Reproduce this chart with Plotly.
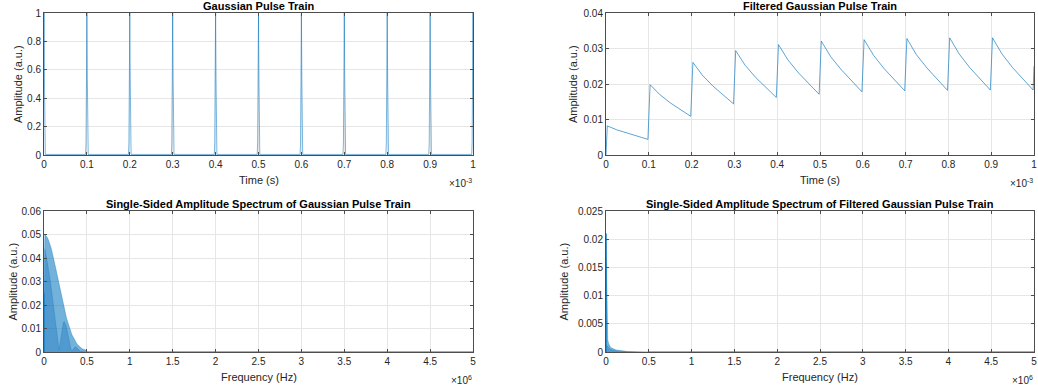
import plotly.graph_objects as go

# ---------------- data ----------------
# Gaussian pulse train: pulse centres (ms) and a single pulse shape
pulse_centers_ms = [0.0, 0.1, 0.2, 0.3, 0.4, 0.5, 0.6, 0.7, 0.8, 0.9, 1.0]
pulse_offsets_us = [-3.0, -2.0, -1.0, 0.0, 1.0, 2.0, 3.0]
pulse_shape = [0.004, 0.085, 0.54, 1.0, 0.54, 0.085, 0.004]

# Filtered pulse train (ms, amplitude)
filt_t_ms = [0.0, 0.003, 0.025, 0.05, 0.075, 0.098,
             0.103, 0.125, 0.15, 0.175, 0.198,
             0.203, 0.225, 0.25, 0.275, 0.298,
             0.303, 0.325, 0.35, 0.375, 0.398,
             0.403, 0.425, 0.45, 0.475, 0.498,
             0.503, 0.525, 0.55, 0.575, 0.598,
             0.603, 0.625, 0.65, 0.675, 0.698,
             0.703, 0.725, 0.75, 0.775, 0.798,
             0.803, 0.825, 0.85, 0.875, 0.898,
             0.903, 0.925, 0.95, 0.975, 0.998,
             1.0]
filt_amp = [0.0, 0.0082, 0.0071, 0.0061, 0.0052, 0.0044,
            0.0198, 0.0171, 0.0147, 0.0126, 0.0109,
            0.0261, 0.0225, 0.0194, 0.0167, 0.0144,
            0.0294, 0.0253, 0.0218, 0.0188, 0.0162,
            0.0311, 0.0268, 0.0231, 0.0199, 0.0171,
            0.0321, 0.0277, 0.0240, 0.0207, 0.0178,
            0.0325, 0.0281, 0.0243, 0.0210, 0.0181,
            0.0328, 0.0283, 0.0245, 0.0211, 0.0182,
            0.0330, 0.0285, 0.0246, 0.0212, 0.0183,
            0.0330, 0.0285, 0.0246, 0.0212, 0.0183,
            0.0250]

# Spectrum: harmonic lines every 10 kHz (0 .. 500 kHz) and the in-between lobes
harm_freq_hz = [k * 1e4 for k in range(51)]
mid_freq_hz = [k * 1e4 + 5e3 for k in range(50)]

spec_peak = [0.0250, 0.0499, 0.0496, 0.0492, 0.0486, 0.0478, 0.0469, 0.0458, 0.0446, 0.0432,
             0.0418, 0.0402, 0.0386, 0.0369, 0.0351, 0.0333, 0.0315, 0.0297, 0.0279, 0.0261,
             0.0243, 0.0226, 0.0209, 0.0193, 0.0177, 0.0162, 0.0148, 0.0135, 0.0122, 0.0110,
             0.0099, 0.0089, 0.0079, 0.0070, 0.0062, 0.0055, 0.0048, 0.0043, 0.0037, 0.0032,
             0.0028, 0.0024, 0.0021, 0.0018, 0.0015, 0.0013, 0.0011, 0.0009, 0.0008, 0.0007,
             0.0006]
spec_lobe = [0.0440, 0.0430, 0.0410, 0.0390, 0.0370, 0.0350, 0.0320, 0.0300, 0.0270, 0.0240,
             0.0210, 0.0180, 0.0150, 0.0110, 0.0080, 0.0050, 0.0020, 0.0010, 0.0030, 0.0060,
             0.0090, 0.0110, 0.0125, 0.0130, 0.0125, 0.0115, 0.0100, 0.0080, 0.0060, 0.0040,
             0.0025, 0.0010, 0.0004, 0.0008, 0.0015, 0.0020, 0.0022, 0.0020, 0.0016, 0.0011,
             0.0006, 0.0003, 0.0002, 0.0003, 0.0003, 0.0002, 0.0001, 0.0001, 0.0000, 0.0000]

filt_spec_peak = [0.0210, 0.0043, 0.0022, 0.0015, 0.0011, 0.00090, 0.00075, 0.00065, 0.00057, 0.00050,
                  0.00045, 0.00040, 0.00036, 0.00033, 0.00030, 0.00027, 0.00024, 0.00022, 0.00020, 0.00018,
                  0.00016, 0.00014, 0.00013, 0.00011, 0.00010, 0.00009, 0.00008, 0.00007, 0.00006, 0.00005,
                  0.00005, 0.00004, 0.00003, 0.00003, 0.00002, 0.00002, 0.00002, 0.00001, 0.00001, 0.00001,
                  0.00001, 0.00001, 0.0, 0.0, 0.0, 0.0, 0.0, 0.0, 0.0, 0.0,
                  0.0]
filt_spec_lobe = [0.0012, 0.0011, 0.0008, 0.0006, 0.0005, 0.00040, 0.00035, 0.00030, 0.00026, 0.00022,
                  0.00020, 0.00017, 0.00015, 0.00013, 0.00011, 0.00010, 0.00009, 0.00008, 0.00007, 0.00006,
                  0.00005, 0.00004, 0.00004, 0.00003, 0.00003, 0.00002, 0.00002, 0.00002, 0.00001, 0.00001,
                  0.0, 0.0, 0.0, 0.0, 0.0, 0.0, 0.0, 0.0, 0.0, 0.0,
                  0.0, 0.0, 0.0, 0.0, 0.0, 0.0, 0.0, 0.0, 0.0, 0.0]

# flat tail of both spectra up to Nyquist
tail_freq_hz = [5.0e5, 5.0e6]
tail_amp = [0.0, 0.0]

# tick labels
time_ticks_ms = [0, 0.1, 0.2, 0.3, 0.4, 0.5, 0.6, 0.7, 0.8, 0.9, 1.0]
time_tick_text = ["0", "0.1", "0.2", "0.3", "0.4", "0.5", "0.6", "0.7", "0.8", "0.9", "1"]
freq_ticks_mhz = [0, 0.5, 1, 1.5, 2, 2.5, 3, 3.5, 4, 4.5, 5]
freq_tick_text = ["0", "0.5", "1", "1.5", "2", "2.5", "3", "3.5", "4", "4.5", "5"]
y1_ticks = [0, 0.2, 0.4, 0.6, 0.8, 1]
y1_text = ["0", "0.2", "0.4", "0.6", "0.8", "1"]
y2_ticks = [0, 0.01, 0.02, 0.03, 0.04]
y2_text = ["0", "0.01", "0.02", "0.03", "0.04"]
y3_ticks = [0, 0.01, 0.02, 0.03, 0.04, 0.05, 0.06]
y3_text = ["0", "0.01", "0.02", "0.03", "0.04", "0.05", "0.06"]
y4_ticks = [0, 0.005, 0.01, 0.015, 0.02, 0.025]
y4_text = ["0", "0.005", "0.01", "0.015", "0.02", "0.025"]

titles = ["Gaussian Pulse Train", "Filtered Gaussian Pulse Train",
          "Single-Sided Amplitude Spectrum of Gaussian Pulse Train",
          "Single-Sided Amplitude Spectrum of Filtered Gaussian Pulse Train"]

# ---------------- figure ----------------
W, H = 1038, 392
BLUE = "#0072BD"
FONT = "Liberation Sans, Arial, Helvetica, sans-serif"
TXT = "#262626"

fig = go.Figure()

# pulse train
px_t, px_a = [], []
for c in pulse_centers_ms:
    for o, s in zip(pulse_offsets_us, pulse_shape):
        px_t.append((c + o / 1000.0) * 1e-3)
        px_a.append(s)
fig.add_trace(go.Scatter(x=px_t, y=px_a, mode="lines", line=dict(color="rgba(0,114,189,0.75)", width=0.7),
                         xaxis="x", yaxis="y", showlegend=False))

# filtered pulse train
fig.add_trace(go.Scatter(x=[t * 1e-3 for t in filt_t_ms], y=filt_amp, mode="lines",
                         line=dict(color="rgba(0,114,189,0.8)", width=0.8), xaxis="x2", yaxis="y2",
                         showlegend=False))


def add_spectrum(peaks, lobes, xa, ya):
    fig.add_trace(go.Scatter(x=harm_freq_hz, y=peaks, mode="lines", fill="tozeroy",
                             fillcolor="rgba(0,114,189,0.55)", line=dict(color="rgba(0,114,189,0.6)", width=0.6),
                             xaxis=xa, yaxis=ya, showlegend=False))
    fig.add_trace(go.Scatter(x=mid_freq_hz, y=lobes, mode="lines", fill="tozeroy",
                             fillcolor="rgba(0,100,180,0.3)", line=dict(color="rgba(0,100,180,0.4)", width=0.6),
                             xaxis=xa, yaxis=ya, showlegend=False))
    fig.add_trace(go.Scatter(x=[harm_freq_hz[0], harm_freq_hz[0]], y=[0, peaks[0]], mode="lines",
                             line=dict(color=BLUE, width=1.2), xaxis=xa, yaxis=ya, showlegend=False))
    fig.add_trace(go.Scatter(x=tail_freq_hz, y=tail_amp, mode="lines", line=dict(color=BLUE, width=1),
                             xaxis=xa, yaxis=ya, showlegend=False))


add_spectrum(spec_peak, spec_lobe, "x3", "y3")
add_spectrum(filt_spec_peak, filt_spec_lobe, "x4", "y4")

# axes geometry in pixels: (left, right, top, bottom)
boxes = [(44, 473, 13, 155), (606, 1034, 13, 155), (44, 473, 211, 352), (606, 1034, 211, 352)]


def xdom(b):
    return [b[0] / W, b[1] / W]


def ydom(b):
    return [1 - b[3] / H, 1 - b[2] / H]


common = dict(showline=True, linecolor="#4d4d4d", linewidth=1, mirror="allticks", ticks="inside",
              ticklen=3, tickcolor="#4d4d4d", tickwidth=1, showgrid=True, gridcolor="#e6e6e6",
              gridwidth=1, zeroline=False, tickfont=dict(family=FONT, size=10, color=TXT),
              tickmode="array", fixedrange=True, automargin=False)

fig.update_layout(
    width=W, height=H, margin=dict(l=0, r=0, t=0, b=0, pad=0, autoexpand=False),
    paper_bgcolor="white", plot_bgcolor="white", showlegend=False,
    xaxis=dict(domain=xdom(boxes[0]), anchor="y", range=[0, 1e-3],
               tickvals=[t * 1e-3 for t in time_ticks_ms], ticktext=time_tick_text, **common),
    yaxis=dict(domain=ydom(boxes[0]), anchor="x", range=[0, 1],
               tickvals=y1_ticks, ticktext=y1_text, **common),
    xaxis2=dict(domain=xdom(boxes[1]), anchor="y2", range=[0, 1e-3],
                tickvals=[t * 1e-3 for t in time_ticks_ms], ticktext=time_tick_text, **common),
    yaxis2=dict(domain=ydom(boxes[1]), anchor="x2", range=[0, 0.04],
                tickvals=y2_ticks, ticktext=y2_text, **common),
    xaxis3=dict(domain=xdom(boxes[2]), anchor="y3", range=[0, 5e6],
                tickvals=[f * 1e6 for f in freq_ticks_mhz], ticktext=freq_tick_text, **common),
    yaxis3=dict(domain=ydom(boxes[2]), anchor="x3", range=[0, 0.06],
                tickvals=y3_ticks, ticktext=y3_text, **common),
    xaxis4=dict(domain=xdom(boxes[3]), anchor="y4", range=[0, 5e6],
                tickvals=[f * 1e6 for f in freq_ticks_mhz], ticktext=freq_tick_text, **common),
    yaxis4=dict(domain=ydom(boxes[3]), anchor="x4", range=[0, 0.025],
                tickvals=y4_ticks, ticktext=y4_text, **common),
)

ann = []
xlabels = ["Time (s)", "Time (s)", "Frequency (Hz)", "Frequency (Hz)"]
exps = ["×10<sup>-3</sup>", "×10<sup>-3</sup>", "×10<sup>6</sup>", "×10<sup>6</sup>"]
ylab_x = [18, 573, 12, 563]
for i, b in enumerate(boxes):
    cx = (b[0] + b[1]) / 2
    cy = (b[2] + b[3]) / 2
    ann.append(dict(text="<b>" + titles[i] + "</b>", x=cx / W, y=1 - (b[2] - 7) / H, xref="paper", yref="paper",
                    xanchor="center", yanchor="middle", showarrow=False,
                    font=dict(family=FONT, size=11, color="black")))
    ann.append(dict(text=xlabels[i], x=cx / W, y=1 - (b[3] + 25) / H, xref="paper", yref="paper",
                    xanchor="center", yanchor="middle", showarrow=False,
                    font=dict(family=FONT, size=11, color=TXT)))
    ann.append(dict(text=exps[i], x=(b[1] + 1) / W, y=1 - (b[3] + 28) / H, xref="paper", yref="paper",
                    xanchor="right", yanchor="middle", showarrow=False,
                    font=dict(family=FONT, size=10, color=TXT)))
    ann.append(dict(text="Amplitude (a.u.)", x=ylab_x[i] / W, y=1 - cy / H, xref="paper", yref="paper",
                    xanchor="center", yanchor="middle", textangle=-90, showarrow=False,
                    font=dict(family=FONT, size=11, color=TXT)))
fig.update_layout(annotations=ann)

fig.write_html("out.html", config={"displayModeBar": False},
               post_script="document.body.style.margin='0';document.body.style.overflow='hidden';")
